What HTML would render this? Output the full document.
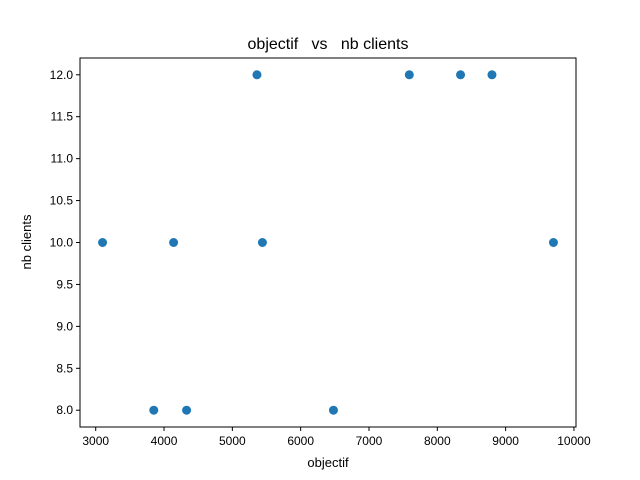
<!DOCTYPE html>
<html><head><meta charset="utf-8">
<style>body{margin:0;background:#fff}svg{display:block;font-family:"Liberation Sans","DejaVu Sans",sans-serif}</style>
</head><body>
<svg id="chart" width="640" height="480">
<rect x="0" y="0" width="640" height="480" fill="#fff"/>
<text x="328" y="49" text-anchor="middle" font-size="16" style="white-space:pre" xml:space="preserve">objectif   vs   nb clients</text>
<text x="328" y="467" text-anchor="middle" font-size="13">objectif</text>
<text x="31" y="242" text-anchor="middle" font-size="13" transform="rotate(-90 31 242)">nb clients</text>
<g id="ticks"></g>
<g id="points"></g>
<rect x="80" y="58" width="496" height="369" fill="none" stroke="#000" stroke-width="1"/>
</svg>
<script>
const objectif = [3100, 3850, 4140, 4330, 5360, 5440, 6480, 7590, 8340, 8800, 9700];
const nbClients = [10, 8, 10, 8, 12, 10, 8, 12, 12, 12, 10];
const xTicks = [3000, 4000, 5000, 6000, 7000, 8000, 9000, 10000];
const yTicks = [8.0, 8.5, 9.0, 9.5, 10.0, 10.5, 11.0, 11.5, 12.0];
const NS = "http://www.w3.org/2000/svg";
const L = 80, R = 576, T = 58, B = 427;
const xmin0 = Math.min(...objectif), xmax0 = Math.max(...objectif);
const ymin0 = Math.min(...nbClients), ymax0 = Math.max(...nbClients);
const xpad = (xmax0 - xmin0) * 0.05, ypad = (ymax0 - ymin0) * 0.05;
const xmin = xmin0 - xpad, xmax = xmax0 + xpad, ymin = ymin0 - ypad, ymax = ymax0 + ypad;
const sx = v => L + (v - xmin) / (xmax - xmin) * (R - L);
const sy = v => B - (v - ymin) / (ymax - ymin) * (B - T);
const tg = document.getElementById('ticks');
xTicks.forEach(t => {
  const x = sx(t);
  const ln = document.createElementNS(NS, 'line');
  ln.setAttribute('x1', x); ln.setAttribute('x2', x); ln.setAttribute('y1', B); ln.setAttribute('y2', B + 4);
  ln.setAttribute('stroke', '#000');
  
  
  tg.appendChild(ln);
  const tx = document.createElementNS(NS, 'text');
  tx.setAttribute('x', x); tx.setAttribute('y', B + 18); tx.setAttribute('text-anchor', 'middle'); tx.setAttribute('font-size', '12');
  tx.textContent = t;
  
  
  tg.appendChild(tx);
});
yTicks.forEach(t => {
  const y = sy(t);
  const ln = document.createElementNS(NS, 'line');
  ln.setAttribute('x1', L - 4); ln.setAttribute('x2', L); ln.setAttribute('y1', y); ln.setAttribute('y2', y);
  ln.setAttribute('stroke', '#000');
  
  
  tg.appendChild(ln);
  const tx = document.createElementNS(NS, 'text');
  tx.setAttribute('x', L - 7); tx.setAttribute('y', y + 4); tx.setAttribute('text-anchor', 'end'); tx.setAttribute('font-size', '12');
  tx.textContent = t.toFixed(1);
  
  
  tg.appendChild(tx);
});
const pg = document.getElementById('points');
objectif.forEach((v, i) => {
  const c = document.createElementNS(NS, 'circle');
  c.setAttribute('cx', sx(v)); c.setAttribute('cy', sy(nbClients[i])); c.setAttribute('r', 4.5);
  c.setAttribute('fill', '#1f77b4');
  
  
  pg.appendChild(c);
});
</script>
</body></html>
